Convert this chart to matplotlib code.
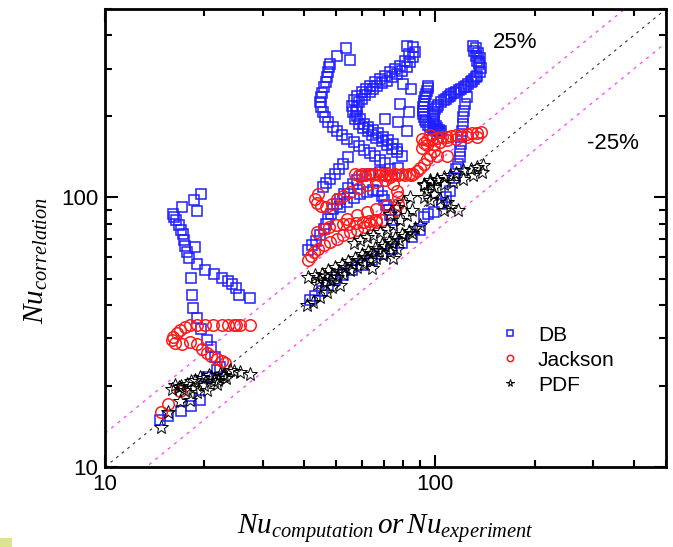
import numpy as np
import matplotlib
matplotlib.use("Agg")
import matplotlib.pyplot as plt
from matplotlib.patches import Rectangle

plt.rcParams['font.family'] = ['Liberation Sans', 'DejaVu Sans']
plt.rcParams['mathtext.fontset'] = 'custom'
plt.rcParams['mathtext.it'] = 'Liberation Serif:italic'
plt.rcParams['mathtext.rm'] = 'Liberation Serif'

# ---------------- data ----------------
db_x = [
    # left cluster
    19.5, 18.6, 19.0, 17.1, 16.1, 16.2, 16.4, 16.7, 17.0, 17.2, 17.3, 17.5, 17.7, 18.0, 19.0, 20.1, 21.4, 22.6,
    23.6, 24.2, 24.9, 25.4, 27.4, 18.7, 18.2, 18.3, 18.5, 19.0, 19.5, 20.3, 20.9, 21.5, 22.3, 19.4, 18.2, 17.0,
    15.5, 14.7, 20.3, 21.8,
    # T1
    48.1, 47.8, 47.4, 47.1, 46.8, 45.9, 45.3, 45.0, 44.8, 45.0, 45.6, 46.4, 47.4, 48.9, 50.3, 52.1, 54.2, 56.6,
    58.6, 61.0, 63.3, 65.8, 68.1, 70.5, 53.7, 50.3, 55.2,
    54.6, 52.6, 51.2, 49.8, 48.1, 46.8, 45.6,
    # T2
    82.1, 85.9, 86.9, 85.9, 84.0, 82.1, 79.3, 76.6, 74.0, 71.5, 69.0, 66.8, 65.0, 63.3, 61.3, 60.0, 58.6, 57.9,
    57.6, 57.9, 59.3, 60.7, 62.8, 65.0, 67.1, 69.4, 71.9, 74.5, 76.6,
    # T3
    83.1, 81.1, 78.3, 75.6, 73.0, 70.5, 68.1, 65.8, 63.5, 61.8, 60.0, 57.9, 56.6, 55.9, 56.3, 57.2, 58.6, 60.4,
    62.4, 64.3, 66.3, 69.0, 71.5, 74.0, 76.6, 79.3,
    78.3, 83.1, 70.5, 80.1, 84.4, 82.1, 77.3,
    # T4
    130, 131, 132.5, 134, 136, 138, 137, 134, 131, 128, 124, 120, 116, 112, 109, 106, 102, 100, 99, 98.5, 99.5,
    101, 104,
    133, 135, 137, 135.5, 132.5, 129.5, 126, 122, 118, 114, 110.5, 107.5, 104, 101, 99.5, 98.7, 99, 100.3, 102.5,
    95.3, 94.4, 93.3, 92.2, 91.7, 92.2, 93.9, 96.6, 100, 103.6,
    94.8, 93.8, 92.7, 91.9, 91.9, 93.0, 95.2, 98.3, 101.8,
    125, 123, 122, 121.5, 121, 120.5, 120, 119.5, 119, 119, 117, 116, 114, 111, 108, 105,
    # D1
    41.3, 42.3, 43.6, 44.8, 45.9, 46.8, 47.4, 48.4, 49.2, 50.3, 51.5, 53.0, 54.6, 56.3, 57.9, 60.0, 63.5, 68.1,
    73.0, 77.3,
    # arch
    51.5, 54.0, 56.6, 59.3, 62.1, 65.0, 67.1, 69.0, 70.2, 71.1, 72.3, 73.0, 74.0,
    # lower diagonal
    41.8, 43.3, 45.3, 47.4, 49.8, 52.6, 55.9, 60.0, 64.3, 69.0, 74.0, 79.3, 85.0, 90.1, 92.2, 95.3, 99.0,
]
db_y = [
    103, 97.5, 88.7, 92, 87.1, 84.5, 82.2, 78.7, 75.5, 73, 69.3, 65.9, 62.7, 59.8, 56.5, 54, 51.9, 50.4,
    49, 47.6, 46.3, 43.5, 42.5, 65.3, 50.2, 43.4, 38.9, 35.8, 32.4, 29.7, 27.9, 25.6, 23.5, 17.7, 16.9, 16.1,
    15.4, 14.9, 21.6, 22.9,
    313, 304, 291, 279, 267, 256, 245, 235, 225, 216, 207, 198, 190, 182, 177, 170, 165, 160,
    155, 150, 146, 142, 138, 134, 358, 336, 324,
    141, 133, 127, 122, 117, 113, 109,
    366, 360, 345, 331, 317, 304, 295, 287, 279, 271, 265, 260, 253, 246, 239, 232, 226, 217,
    210, 201, 196, 188, 183, 178, 173, 168, 164, 158, 151,
    341, 321, 308, 300, 291, 283, 275, 267, 260, 253, 246, 237, 229, 219, 207, 196, 187, 181,
    176, 171, 166, 162, 156, 151, 147, 142,
    222, 207, 196, 264, 253, 177, 190,
    366, 350, 336, 321, 313, 302, 291, 283, 275, 267, 260, 253, 247, 241, 235, 229, 221, 213, 204, 196, 188,
    181, 176,
    358, 343, 328, 317, 279, 271, 263, 256, 250, 244, 238, 232, 225, 217, 208, 200, 192, 184, 178,
    260, 249, 235, 222, 210, 198, 190, 183, 178, 174,
    254, 242, 228, 216, 204, 194, 186, 180, 176,
    235, 222, 210, 198, 188, 177, 167, 158, 149, 141, 133, 127, 118, 106, 100, 94.7,
    63.6, 66.4, 68.9, 72.3, 76.6, 79.9, 83.4, 87.1, 90.8, 94.8, 98.9, 103, 108, 112, 116, 120, 122.5, 124,
    127, 129,
    92, 96.1, 99.8, 102.6, 105, 107, 105.5, 101.6, 97.5, 93.4, 89.5, 85.7, 82.2,
    41.5, 43.0, 45.0, 47.2, 49.3, 51.4, 53.7, 56.0, 58.8, 61.8, 64.5, 67.5, 71.3, 75.5, 84.5, 87.1, 88.3,
]

jackson_x = [
    # left cluster
    18.1, 19.0, 20.1, 21.3, 22.6, 23.6, 24.5, 25.0, 25.6, 27.5,
    17.5, 16.9, 16.5, 16.1, 15.9, 16.3, 17.1, 18.1, 19.0, 19.6, 20.3, 21.0, 21.8, 22.6, 23.1,
    16.9, 15.5, 14.8,
    # row at ~122
    57.2, 58.6, 60.0, 61.4, 62.8, 64.3, 65.8, 67.4, 69.0, 70.5, 71.9, 73.7, 75.6, 77.4, 79.3, 81.1, 83.1, 84.5, 85.9,
    # loop
    44.3, 43.3, 43.8, 45.0, 46.8, 48.6, 50.3, 52.6, 55.2, 58.6, 62.1, 66.3, 70.5,
    43.8, 45.9, 47.8, 50.0, 52.5, 55.0, 57.6, 60.4, 63.2, 66.2, 69.2,
    54.0, 57.9, 62.1, 66.3, 71.5,
    41.3, 42.0, 43.0, 44.3, 45.9, 48.1, 50.3, 52.6, 55.2, 57.9, 60.7, 63.5, 66.3,
    73.0, 74.5, 76.6, 77.3, 77.0, 75.6,
    # right band
    92.2, 94.4, 98.0, 101, 105, 108.5, 112, 116, 120, 125, 129, 134, 138,
    94.4, 99, 103.6, 108.5, 116, 125, 134,
    96.6, 91, 91,
    99, 96.6, 108.5, 101, 94.4, 92.2, 90.1, 88,
]
jackson_y = [
    33.6, 33.6, 33.6, 33.6, 33.6, 33.6, 33.6, 33.6, 33.6, 33.6,
    33.1, 32.1, 31.3, 30.4, 29.5, 28.8, 28.7, 29.1, 28.7, 27.5, 26.5, 25.7, 25.2, 24.8, 24.3,
    19.2, 17.2, 16.0,
    122, 121, 122, 121.5, 122, 121, 122, 121.5, 122, 121, 122, 121.5, 122, 121, 122, 121.5, 122, 121, 122,
    103, 98.9, 95.5, 93.0, 92.0, 94.8, 98.9, 101.6, 104.6, 108, 111, 114, 116,
    74.3, 76.6, 77.6, 78.7, 79.4, 79.9, 80.4, 81.1, 81.7, 82.2, 82.6,
    83.4, 85.7, 88.3, 90.8, 93.4,
    58.5, 60.4, 62.7, 64.5, 66.4, 68.3, 70.3, 72.3, 74.3, 75.9, 77.6, 79.4, 81.1,
    119, 112, 106, 100, 94.8, 89.5,
    159, 164, 165, 166, 167, 168, 169, 170, 171, 172, 173, 174, 175,
    156, 158, 160, 163, 165, 167, 168,
    170, 165, 153,
    149, 144, 142, 142, 139, 133, 129, 125,
]

pdf_x = [
    # left cluster
    27.5, 25.6, 23.9, 22.3, 21.0, 19.8, 18.7, 17.7, 16.7, 15.9, 17.3, 19.0, 20.3, 21.8, 23.3, 18.1, 16.9, 15.5, 14.8,
    18.2, 19.4, 20.7, 22.0, 23.0, 24.5, 16.3, 17.0, 18.5, 20.0, 21.4, 22.8,
    # middle band
    41.3, 43.3, 45.3, 47.4, 49.8, 52.2, 54.6, 57.2, 60.0, 62.8, 65.8, 69.0, 72.3, 75.6, 79.3, 83.1, 86.9, 90.1,
    43.8, 45.9, 48.1, 50.3, 52.6, 55.2, 57.9, 60.7, 63.5, 66.3, 69.4, 73.0, 76.6,
    44.5, 46.5, 48.7, 51.0, 53.4, 56.0, 58.6, 61.4, 64.3, 67.5, 70.7, 74.0, 77.5, 81.0, 85.0,
    56.6, 59.3, 62.1, 65.0, 68.1, 71.5, 74.5, 78.3, 82.1, 85.0,
    92.2, 96.6, 101, 94.4, 99, 103.6, 108.5, 111, 96.6, 92.2, 117, 106,
    92.2, 96.6, 101, 106, 111, 116, 121, 128, 134, 140,
    99, 106, 113, 121, 130, 139,
    73, 76.6, 80.1, 84,
    40.8, 42.6, 44.8, 47, 48.6, 51.5,
    64.4, 74.7,
]
pdf_y = [
    22.1, 22.5, 22.9, 22.2, 21.6, 21.3, 21.0, 20.4, 19.8, 19.5, 19.3, 19.0, 19.3, 20.4, 21.3, 17.7, 17.5, 16.0, 14.1,
    20.8, 21.5, 22.0, 21.0, 22.0, 22.7, 20.2, 19.9, 19.6, 20.1, 20.9, 21.8,
    50.7, 51.4, 52.1, 53.7, 55.2, 56.5, 58.1, 59.8, 61.5, 63.2, 65.1, 67.0, 68.9, 70.9, 72.9, 75.0, 77.2, 78.7,
    47.9, 48.5, 49.3, 50.7, 52.1, 53.7, 55.2, 56.8, 58.5, 59.8, 61.0, 62.7, 64.5,
    50, 51, 52, 53.5, 55, 56.6, 58.4, 60.2, 62, 64, 65.8, 67.8, 69.8, 71.8, 74,
    67.5, 69.3, 71.3, 72.3, 74.3, 76.6, 78.7, 82.2, 85.7, 89.5,
    112, 116, 117, 106, 103, 98.9, 96.1, 92, 97.5, 100, 89.5, 89.5,
    111, 114, 116, 119, 121, 123, 126, 128, 130, 132,
    109, 112, 114, 117, 121, 124,
    87.1, 92, 96.1, 100,
    39.8, 41, 42.8, 44.6, 46.5, 47.2,
    54.6, 59.4,
]

x_limits = [10, 500]
y_limits = [10, 500]
band_factor = 0.75  # +-25 % lines
series_labels = ["DB", "Jackson", "PDF"]
band_labels = ["25%", "-25%"]

# ---------------- figure ----------------
fig = plt.figure(figsize=(6.73, 5.47), dpi=100)
ax = fig.add_axes([105/673, 80/547, 561/673, 458/547])
ax.set_xscale('log')
ax.set_yscale('log')
ax.set_xlim(*x_limits)
ax.set_ylim(*y_limits)

ref = np.array(x_limits, dtype=float)
ax.plot(ref, ref, color='#333333', lw=0.8, dashes=(2.5, 4), zorder=1)
ax.plot(ref, ref / band_factor, color='#ff40ff', lw=0.9, dashes=(2.5, 4), zorder=1)
ax.plot(ref, ref * band_factor, color='#ff40ff', lw=0.9, dashes=(2.5, 4), zorder=1)

ax.plot(db_x, db_y, ls='none', marker='s', ms=7.2, mfc='none', mec='#1f1fff', mew=1.1,
        label=series_labels[0], zorder=3)
ax.plot(jackson_x, jackson_y, ls='none', marker='o', ms=8.3, mfc='none', mec='#ff1a1a', mew=1.1,
        label=series_labels[1], zorder=4)
ax.plot(pdf_x, pdf_y, ls='none', marker='*', ms=10, mfc='none', mec='black', mew=0.7,
        label=series_labels[2], zorder=5)

ax.text(149, 375, band_labels[0], fontsize=16, va='center', ha='left')
ax.text(289, 158, band_labels[1], fontsize=16, va='center', ha='left')

leg = ax.legend(loc='upper left', bbox_to_anchor=(0.684, 0.327), frameon=False, fontsize=15,
                markerscale=0.55, handlelength=1.2, handletextpad=0.77, labelspacing=0.29,
                borderaxespad=0)

for s in ax.spines.values():
    s.set_linewidth(2)
ax.tick_params(which='both', direction='in', top=True, right=True, labelsize=16)
ax.tick_params(which='major', length=9, width=1.5, pad=5)
ax.tick_params(which='minor', length=5, width=1.5)
ax.xaxis.set_minor_formatter(matplotlib.ticker.NullFormatter())
ax.yaxis.set_minor_formatter(matplotlib.ticker.NullFormatter())
ax.xaxis.set_major_formatter(matplotlib.ticker.FuncFormatter(lambda v, p: f"{v:g}"))
ax.yaxis.set_major_formatter(matplotlib.ticker.FuncFormatter(lambda v, p: f"{v:g}"))

ax.set_xlabel(r'$Nu_{computation}\,or\,Nu_{experiment}$', fontsize=21, labelpad=12)
ax.set_ylabel(r'$Nu_{correlation}$', fontsize=21, labelpad=8)
ax.yaxis.set_label_coords(-0.098, 0.452)

fig.patches.append(Rectangle((0, 0), 12/673, 9/547, transform=fig.transFigure,
                             facecolor='#dde58c', edgecolor='none'))

fig.savefig('out.png', dpi=100)
